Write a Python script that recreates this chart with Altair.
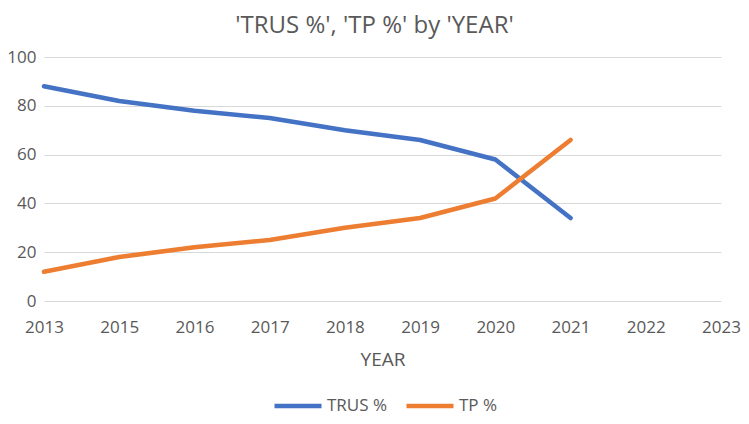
import altair as alt
import pandas as pd

years = ["2013", "2015", "2016", "2017", "2018", "2019", "2020", "2021", "2022", "2023"]
data_years = ["2013", "2015", "2016", "2017", "2018", "2019", "2020", "2021"]
trus = [88, 82, 78, 75, 70, 66, 58, 34]
tp = [12, 18, 22, 25, 30, 34, 42, 66]
series = ["TRUS %", "TP %"]
colors = ["#4472C4", "#ED7D31"]
y_ticks = [0, 20, 40, 60, 80, 100]

df = pd.DataFrame({
    "YEAR": data_years + data_years,
    "value": trus + tp,
    "series": [series[0]] * len(trus) + [series[1]] * len(tp),
})

FONT = "Open Sans"
TXT = "#595959"

chart = alt.Chart(df).mark_line(
    strokeWidth=4.5, strokeCap="round", strokeJoin="round"
).encode(
    x=alt.X(
        "YEAR:O",
        sort=years,
        scale=alt.Scale(type="point", domain=years, padding=0),
        axis=alt.Axis(
            title="YEAR", labelAngle=0, ticks=False, domain=False, grid=False,
            labelPadding=18, titlePadding=15, labelFontSize=17, titleFontSize=19,
            titleFontWeight="normal", labelColor=TXT, titleColor=TXT,
            labelFont=FONT, titleFont=FONT,
        ),
    ),
    y=alt.Y(
        "value:Q",
        scale=alt.Scale(domain=[0, 100]),
        axis=alt.Axis(
            title=None, values=y_ticks, ticks=False, domain=False,
            gridColor="#d9d9d9", gridWidth=1, labelPadding=8, labelFontSize=17,
            labelColor=TXT, labelFont=FONT,
        ),
    ),
    color=alt.Color(
        "series:N",
        sort=series,
        scale=alt.Scale(domain=series, range=colors),
        legend=alt.Legend(
            title=None, orient="none", direction="horizontal",
            legendX=228, legendY=323, symbolType="stroke", symbolSize=2209,
            symbolStrokeWidth=4.5, labelFontSize=17, labelFont=FONT,
            labelColor=TXT, columnPadding=9, labelOffset=3, padding=0,
        ),
    ),
).properties(
    width=677,
    height=244,
    title=alt.TitleParams(
        text="'TRUS %', 'TP %' by 'YEAR'", fontSize=24, font=FONT,
        color=TXT, fontWeight="normal", anchor="middle", dx=-8, offset=10,
    ),
    autosize=alt.AutoSizeParams(type="none"),
    padding={"left": 36, "top": 49, "right": 20, "bottom": 115},
).configure_view(stroke=None)

chart.save("out.html", embed_options={"renderer": "svg", "actions": False})
